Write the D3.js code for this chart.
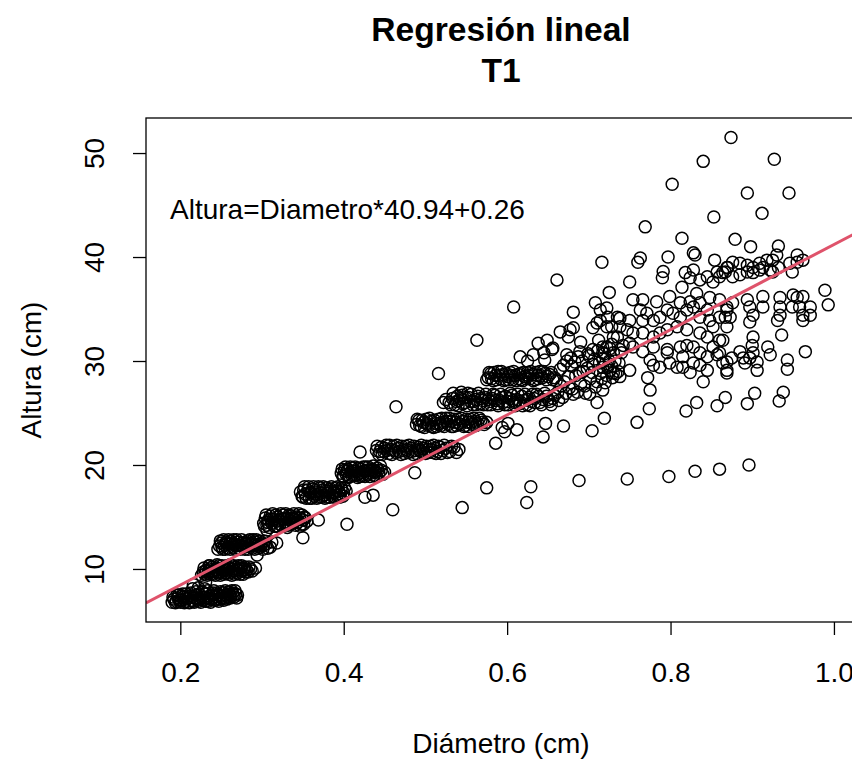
<!DOCTYPE html>
<html>
<head>
<meta charset="utf-8">
<script src="https://cdn.jsdelivr.net/npm/d3@7"></script>
<style>
body{margin:0;background:#fff;}
text{font-family:"Liberation Sans", Arial, sans-serif;fill:#000;}
</style>
</head>
<body>
<div id="grafico"></div>
<script>
// pares [diametro (cm), altura (cm)], agrupados por zona
var franja1 = [[0.190,6.8],[0.192,7.1],[0.195,6.9],[0.197,7.2],[0.200,6.8],[0.201,7.0],[0.204,7.3],[0.206,6.9],[0.208,7.1],[0.210,6.8],[0.212,7.4],[0.214,7.0],[0.216,6.9],[0.218,7.2],[0.220,7.5],[0.222,6.9],[0.224,7.1],[0.226,7.3],[0.228,7.0],[0.230,7.6],[0.232,7.2],[0.234,6.9],[0.236,7.4],[0.238,7.1],[0.240,7.7],[0.242,7.0],[0.244,7.3],[0.246,7.5],[0.248,7.1],[0.250,7.4],[0.252,7.7],[0.254,7.2],[0.256,7.5],[0.258,7.3],[0.260,7.6],[0.262,7.4],[0.264,7.7],[0.266,7.3],[0.268,7.6],[0.270,7.5],[0.215,8.1],[0.222,8.2],[0.230,8.1],[0.216,8.5],[0.231,8.75],[0.203,7.6],[0.198,7.5],
  [0.191,7.3],[0.194,6.75],[0.196,7.5],[0.199,7.0],[0.202,7.4],[0.205,6.75],[0.207,7.6],[0.209,7.2],[0.211,6.75],[0.213,7.7],[0.215,7.3],[0.217,6.8],[0.219,7.8],[0.221,7.1],[0.223,7.6],[0.225,6.8],[0.227,7.8],[0.229,7.3],[0.231,6.9],[0.233,7.9],[0.235,7.1],[0.237,6.8],[0.239,7.5],[0.241,7.9],[0.243,7.0],[0.245,7.7],[0.247,6.9],[0.249,7.8],[0.251,7.2],[0.253,7.0],[0.255,7.9],[0.257,7.1],[0.259,7.8],[0.261,7.2],[0.263,7.9],[0.265,7.5],[0.267,7.9],[0.269,7.2]];
var franja2 = [[0.228,9.7],[0.230,9.5],[0.232,9.9],[0.234,9.6],[0.236,10.0],[0.238,9.7],[0.240,9.5],[0.242,9.9],[0.244,10.1],[0.246,9.7],[0.248,9.6],[0.250,10.0],[0.252,9.8],[0.254,10.2],[0.256,9.6],[0.258,9.9],[0.260,10.1],[0.262,9.7],[0.264,10.0],[0.266,9.8],[0.268,10.2],[0.270,9.6],[0.272,9.9],[0.274,10.1],[0.276,9.8],[0.278,10.0],[0.280,9.7],[0.283,9.7],[0.286,10.0],[0.292,10.1],[0.236,10.3],[0.245,10.4],[0.226,9.4],
  [0.229,10.1],[0.231,9.8],[0.233,9.4],[0.235,10.3],[0.237,9.5],[0.239,10.2],[0.241,9.8],[0.243,9.4],[0.245,9.9],[0.247,10.3],[0.249,9.4],[0.251,10.3],[0.253,9.5],[0.255,9.9],[0.257,10.3],[0.259,9.5],[0.261,10.4],[0.263,9.4],[0.265,10.3],[0.267,9.5],[0.269,9.9],[0.271,10.3],[0.273,9.5],[0.275,10.3],[0.277,9.5],[0.279,10.2],[0.281,9.9],[0.284,10.2],[0.288,9.8]];
var franja3 = [[0.248,12.2],[0.250,12.5],[0.252,11.9],[0.254,12.3],[0.256,12.6],[0.258,12.0],[0.260,12.4],[0.262,12.7],[0.264,12.1],[0.266,12.4],[0.268,12.2],[0.270,12.6],[0.272,12.0],[0.274,12.3],[0.276,12.5],[0.278,12.1],[0.280,12.4],[0.282,12.7],[0.284,12.2],[0.286,12.5],[0.288,12.0],[0.290,12.3],[0.292,12.6],[0.294,12.2],[0.296,12.4],[0.298,12.1],[0.300,12.5],[0.302,12.3],[0.305,12.4],[0.310,12.1],[0.318,12.5],[0.294,11.35],[0.306,13.75],[0.246,11.9],
  [0.249,12.7],[0.251,12.1],[0.253,12.8],[0.255,11.9],[0.257,12.4],[0.259,12.8],[0.261,11.9],[0.263,12.5],[0.265,12.8],[0.267,11.9],[0.269,12.8],[0.271,12.3],[0.273,11.9],[0.275,12.8],[0.277,12.2],[0.279,11.9],[0.281,12.5],[0.283,11.9],[0.285,12.8],[0.287,12.4],[0.289,12.8],[0.291,11.9],[0.293,12.8],[0.295,12.0],[0.297,12.7],[0.299,12.3],[0.301,11.9],[0.303,12.7],[0.307,12.0],[0.312,12.6]];
var franja4 = [[0.302,14.4],[0.304,14.9],[0.306,14.2],[0.308,14.7],[0.310,15.1],[0.312,14.4],[0.314,14.8],[0.316,14.1],[0.318,14.6],[0.320,15.0],[0.322,14.3],[0.324,14.8],[0.326,15.2],[0.328,14.5],[0.330,14.9],[0.332,14.2],[0.334,14.7],[0.336,15.1],[0.338,14.4],[0.340,14.8],[0.342,15.0],[0.344,14.5],[0.346,14.9],[0.348,14.3],[0.350,14.7],[0.352,15.0],[0.355,14.6],
  [0.303,14.1],[0.305,15.2],[0.307,14.5],[0.309,14.0],[0.311,14.8],[0.313,15.3],[0.315,14.1],[0.317,15.2],[0.319,14.1],[0.321,14.7],[0.323,15.3],[0.325,14.1],[0.327,14.8],[0.329,15.3],[0.331,14.0],[0.333,15.2],[0.335,14.3],[0.337,14.9],[0.339,15.3],[0.341,14.2],[0.343,14.7],[0.345,15.3],[0.347,14.1],[0.349,15.2],[0.351,14.3],[0.353,14.9]];
var franja5 = [[0.347,17.4],[0.350,16.9],[0.353,17.2],[0.356,17.6],[0.358,16.8],[0.360,17.3],[0.362,17.7],[0.364,17.0],[0.366,17.4],[0.369,17.9],[0.370,16.9],[0.372,17.3],[0.374,17.6],[0.376,17.1],[0.378,17.5],[0.380,16.9],[0.382,17.3],[0.384,17.7],[0.386,17.0],[0.388,17.4],[0.390,17.8],[0.392,17.1],[0.394,17.5],[0.396,17.2],[0.398,17.6],[0.400,17.3],[0.403,17.5],[0.352,17.9],
  [0.349,17.0],[0.351,17.6],[0.354,16.8],[0.357,17.9],[0.359,17.4],[0.361,16.8],[0.363,17.9],[0.365,17.2],[0.367,16.8],[0.371,17.8],[0.373,16.9],[0.375,17.9],[0.377,16.8],[0.379,17.8],[0.381,17.5],[0.383,16.9],[0.385,17.9],[0.387,17.3],[0.389,16.9],[0.391,17.5],[0.393,17.9],[0.395,16.9],[0.397,17.8],[0.399,17.0],[0.401,17.8]];
var franja6 = [[0.397,19.2],[0.399,18.9],[0.401,19.5],[0.403,19.1],[0.405,19.6],[0.407,18.9],[0.409,19.3],[0.411,19.7],[0.413,19.0],[0.415,19.4],[0.417,18.8],[0.419,19.2],[0.421,19.6],[0.423,19.0],[0.425,19.4],[0.427,19.8],[0.429,19.1],[0.431,19.5],[0.433,19.2],[0.435,19.6],[0.437,19.0],[0.439,19.4],[0.441,19.7],[0.443,19.2],[0.446,19.5],[0.450,19.3],
  [0.398,19.6],[0.400,18.9],[0.402,19.8],[0.404,19.4],[0.406,18.8],[0.408,19.8],[0.410,19.0],[0.412,19.4],[0.414,19.8],[0.416,19.0],[0.418,19.7],[0.420,18.9],[0.422,19.3],[0.424,19.8],[0.426,18.9],[0.428,19.5],[0.430,19.8],[0.432,18.9],[0.434,19.4],[0.436,19.9],[0.438,19.3],[0.440,18.9],[0.442,19.5],[0.445,19.9],[0.448,19.1]];
var franja7 = [[0.420,21.25],[0.440,21.4],[0.443,21.0],[0.446,21.7],[0.449,21.3],[0.452,21.9],[0.455,21.1],[0.458,21.5],[0.461,21.8],[0.464,21.2],[0.467,21.6],[0.470,21.0],[0.473,21.4],[0.476,21.8],[0.479,21.2],[0.482,21.6],[0.485,21.0],[0.488,21.4],[0.491,21.7],[0.494,21.3],[0.497,21.6],[0.500,21.1],[0.503,21.5],[0.506,21.8],[0.509,21.2],[0.512,21.6],[0.515,21.3],[0.518,21.7],[0.521,21.4],[0.525,21.6],[0.530,21.3],[0.535,21.7],[0.541,21.5],
  [0.441,21.8],[0.444,21.3],[0.447,21.0],[0.450,21.6],[0.453,21.4],[0.456,21.9],[0.459,21.0],[0.462,21.4],[0.465,21.9],[0.468,21.3],[0.471,21.8],[0.474,21.1],[0.477,21.5],[0.480,21.9],[0.483,21.3],[0.486,21.8],[0.489,21.1],[0.492,21.5],[0.495,21.9],[0.498,21.2],[0.501,21.8],[0.504,21.2],[0.507,21.5],[0.510,21.9],[0.513,21.1],[0.516,21.8],[0.519,21.1],[0.523,21.9],[0.527,21.2],[0.532,21.8],[0.538,21.2]];
var franja8 = [[0.489,23.9],[0.492,24.3],[0.495,23.7],[0.498,24.1],[0.501,24.4],[0.504,23.8],[0.507,24.2],[0.510,23.6],[0.513,24.0],[0.516,24.4],[0.519,23.8],[0.522,24.1],[0.525,24.5],[0.528,23.9],[0.531,24.2],[0.534,23.7],[0.537,24.1],[0.540,24.4],[0.543,23.9],[0.546,24.2],[0.549,23.8],[0.552,24.1],[0.555,24.4],[0.558,23.9],[0.561,24.2],[0.564,24.0],[0.568,24.3],[0.572,23.9],[0.575,24.1],
  [0.490,24.4],[0.493,23.8],[0.496,24.3],[0.499,23.6],[0.502,24.0],[0.505,24.5],[0.508,23.7],[0.511,24.3],[0.514,23.7],[0.517,24.0],[0.520,24.5],[0.523,23.7],[0.526,24.2],[0.529,24.5],[0.532,23.7],[0.535,24.4],[0.538,23.8],[0.541,24.0],[0.544,24.5],[0.547,23.7],[0.550,24.4],[0.553,23.7],[0.556,24.1],[0.559,24.5],[0.562,23.8],[0.566,24.5],[0.570,24.1]];
var franja9 = [[0.522,26.0],[0.529,26.0],[0.533,26.4],[0.536,25.8],[0.539,26.6],[0.541,26.2],[0.544,27.0],[0.546,25.9],[0.549,26.5],[0.552,26.9],[0.555,26.1],[0.558,25.8],[0.561,26.3],[0.564,26.6],[0.567,25.9],[0.570,26.2],[0.573,26.5],[0.576,25.8],[0.579,26.1],[0.582,26.4],[0.585,26.7],[0.588,25.9],[0.591,26.2],[0.594,26.5],[0.597,25.8],[0.600,26.1],[0.603,26.4],[0.606,26.7],[0.609,26.0],[0.612,26.3],[0.615,25.9],[0.618,26.6],[0.621,26.2],[0.624,25.8],[0.627,26.5],[0.630,26.1],[0.633,26.4],[0.636,26.8],[0.640,26.0],[0.644,26.3],[0.648,26.6],[0.652,26.1],[0.656,26.4],
  [0.525,26.3],[0.531,25.8],[0.534,26.9],[0.538,26.1],[0.540,25.7],[0.543,26.4],[0.545,26.7],[0.548,26.0],[0.551,25.7],[0.553,26.5],[0.556,26.8],[0.559,26.1],[0.562,25.8],[0.565,26.9],[0.568,26.4],[0.571,25.8],[0.574,26.8],[0.577,26.3],[0.580,25.8],[0.583,26.8],[0.586,26.2],[0.589,25.7],[0.592,26.8],[0.595,26.0],[0.598,26.6],[0.601,25.8],[0.604,26.9],[0.607,26.2],[0.610,25.7],[0.613,26.8],[0.616,26.1],[0.619,25.7],[0.622,26.8],[0.625,26.3],[0.628,25.7],[0.631,26.8],[0.634,26.0],[0.638,26.6],[0.642,25.8],[0.646,26.9],[0.650,26.3],[0.654,25.8],[0.658,26.7]];
var franja10 = [[0.575,28.2],[0.577,28.4],[0.580,28.8],[0.583,28.1],[0.586,28.6],[0.589,29.0],[0.592,28.3],[0.595,28.7],[0.598,28.2],[0.601,28.5],[0.604,28.9],[0.607,28.2],[0.610,28.6],[0.613,28.3],[0.616,28.8],[0.619,28.1],[0.622,28.5],[0.625,28.9],[0.628,28.3],[0.631,28.7],[0.634,28.2],[0.637,28.6],[0.640,29.0],[0.643,28.4],[0.646,28.8],[0.650,28.5],[0.654,28.9],[0.658,28.4],
  [0.578,28.9],[0.581,28.3],[0.584,28.9],[0.587,28.2],[0.590,28.6],[0.593,29.0],[0.596,28.1],[0.599,28.8],[0.602,28.2],[0.605,28.6],[0.608,29.0],[0.611,28.1],[0.614,28.7],[0.617,28.2],[0.620,28.9],[0.623,28.3],[0.626,28.6],[0.629,29.0],[0.632,28.1],[0.635,28.9],[0.638,28.3],[0.641,28.6],[0.644,29.0],[0.648,28.2],[0.652,28.7],[0.656,28.2]];
var nubeCentral = [[0.662,27.0],[0.665,29.2],[0.668,26.5],[0.670,28.0],[0.673,30.0],[0.676,27.4],[0.679,29.5],[0.681,26.8],[0.684,28.6],[0.687,30.4],[0.690,27.8],[0.693,29.0],[0.696,26.9],[0.699,30.7],[0.702,28.3],[0.705,29.7],[0.708,27.5],[0.711,31.0],[0.714,28.8],[0.717,30.2],[0.720,27.9],[0.723,29.4],[0.726,31.2],[0.729,28.4],[0.732,30.0],[0.736,29.0],[0.740,30.8],[0.726,29.1],[0.738,28.5],[0.750,29.1],[0.730,28.85],[0.717,29.4],[0.775,30.1],[0.779,29.6],[0.799,29.8],[0.787,29.4],[0.808,29.4],[0.845,30.4],[0.857,30.6],[0.864,29.8],[0.869,29.1],[0.828,29.8],[0.824,28.9],[0.815,29.4],[0.836,29.6],[0.845,29.1],[0.796,30.8],[0.766,30.9],[0.742,31.5],[0.750,31.7],[0.820,31.5],
  [0.660,28.1],[0.663,26.2],[0.666,27.6],[0.669,29.6],[0.672,26.9],[0.675,28.5],[0.678,30.3],[0.680,27.3],[0.683,29.9],[0.686,27.0],[0.689,28.9],[0.692,30.0],[0.695,27.6],[0.698,29.3],[0.701,26.8],[0.704,28.9],[0.707,30.2],[0.710,28.0],[0.713,29.8],[0.716,28.3],[0.719,30.7],[0.722,28.6],[0.725,30.0],[0.728,29.5],[0.733,28.8],[0.737,29.8]];
var nubeSuperior = [[0.616,30.4],[0.632,30.6],[0.638,31.7],[0.655,31.1],[0.673,30.6],[0.689,30.9],[0.705,31.1],[0.717,31.35],[0.625,30.0],[0.645,30.8],[0.649,32.0],[0.656,31.25],[0.646,30.1],[0.690,31.8],[0.700,30.5],[0.712,32.0],[0.728,31.6],[0.735,32.3],[0.681,34.7],[0.665,32.8],[0.677,33.0],[0.675,32.3],[0.681,33.2],[0.708,35.6],[0.714,34.9],[0.710,33.65],[0.705,33.2],[0.722,35.1],[0.723,34.2],[0.725,36.6],[0.716,39.5],[0.760,39.5],[0.750,37.6],[0.791,38.6],[0.738,34.1],[0.728,33.3],[0.754,35.9],[0.766,35.9],[0.763,34.9],[0.750,33.9],[0.766,33.9],[0.763,39.9],[0.797,40.0],[0.830,40.2],[0.854,39.7],[0.790,38.0],[0.818,38.5],[0.824,38.0],[0.828,38.75],[0.836,37.8],[0.845,38.1],[0.852,37.6],[0.857,38.55],[0.864,38.5],[0.870,39.0],[0.814,37.1],[0.783,35.7],[0.799,36.2],[0.812,35.6],[0.824,35.7],[0.832,36.5],[0.836,35.6],[0.848,36.1],[0.860,35.9],[0.869,35.2],[0.867,34.2],[0.714,33.9],[0.722,33.3],[0.735,34.2],[0.738,33.3],[0.771,34.6],[0.779,33.9],[0.787,34.2],[0.796,34.9],[0.803,34.6],[0.812,34.2],[0.820,34.9],[0.828,35.2],[0.836,34.2],[0.845,34.9],[0.848,33.9],[0.852,33.3],[0.860,34.2],[0.869,33.3],[0.796,33.0],[0.808,33.3],[0.820,33.0],[0.836,32.7],[0.845,32.3],[0.787,32.7],[0.779,32.3],[0.766,32.7],[0.754,32.7],[0.747,33.0],[0.730,32.3],[0.722,31.35],[0.738,31.1],[0.754,31.35],[0.779,31.35],[0.796,31.1],[0.812,31.35],[0.828,31.35],[0.836,30.8],[0.815,30.4],[0.852,31.35],[0.860,32.0],[0.717,30.8],[0.730,30.8]];
var nubeDerecha = [[0.912,44.2],[0.879,41.7],[0.898,41.0],[0.932,41.05],[0.930,40.2],[0.925,39.7],[0.918,39.7],[0.909,39.4],[0.901,39.0],[0.894,39.2],[0.885,39.4],[0.876,39.5],[0.869,39.0],[0.867,38.55],[0.860,38.1],[0.876,38.1],[0.885,38.3],[0.894,38.55],[0.901,38.5],[0.909,38.75],[0.913,39.0],[0.922,38.75],[0.925,38.55],[0.932,39.0],[0.946,39.4],[0.955,40.2],[0.955,39.5],[0.949,38.55],[0.962,39.7],[0.989,36.8],[0.993,35.4],[0.962,36.2],[0.950,36.35],[0.934,36.1],[0.913,36.2],[0.913,35.2],[0.897,35.2],[0.894,35.9],[0.876,35.6],[0.869,34.9],[0.873,34.2],[0.901,34.4],[0.934,35.2],[0.934,34.4],[0.949,35.2],[0.958,35.2],[0.971,35.2],[0.971,34.4],[0.962,34.4],[0.955,36.1],[0.901,32.3],[0.936,32.5],[0.965,30.9],[0.919,31.35],[0.922,30.6],[0.943,30.1],[0.943,29.2],[0.900,31.5],[0.901,30.8],[0.906,29.9],[0.906,29.1],[0.897,30.3],[0.885,30.9],[0.875,30.3],[0.869,29.9],[0.869,28.85],[0.860,30.8],[0.864,32.0],[0.889,30.3],[0.891,29.8],[0.897,33.75],[0.931,33.9],[0.962,33.9]];
var atipicos = [[0.350,13.0],[0.369,14.7],[0.404,14.3],[0.460,15.7],[0.426,16.9],[0.436,17.1],[0.487,19.25],[0.464,25.6],[0.545,15.9],[0.624,16.4],[0.575,17.8],[0.629,17.9],[0.688,18.5],[0.747,18.65],[0.798,18.9],[0.830,19.4],[0.860,19.6],[0.896,20.0],[0.586,22.1],[0.612,23.4],[0.647,24.0],[0.644,22.7],[0.669,23.75],[0.704,23.3],[0.719,24.5],[0.759,24.1],[0.774,25.4],[0.819,25.2],[0.832,26.0],[0.857,25.7],[0.894,25.9],[0.933,26.15],[0.594,23.6],[0.601,24.0],[0.597,23.2],[0.710,26.0],[0.772,28.4],[0.775,27.2],[0.717,27.2],[0.840,28.0],[0.867,26.5],[0.903,26.9],[0.938,27.0],[0.516,28.8],[0.563,32.0],[0.608,35.2],[0.661,37.8],[0.874,51.5],[0.840,49.2],[0.927,49.4],[0.802,47.0],[0.894,46.15],[0.945,46.15],[0.853,43.85],[0.769,42.9],[0.814,41.8],[0.828,40.4]];

var dominioX = [0.158, 1.027];
var dominioY = [4.9, 53.37];
var ticksX = [0.2, 0.4, 0.6, 0.8, 1.0];
var ticksY = [10, 20, 30, 40, 50];
var pendiente = 40.94;
var intercepto = 0.26;

var ancho = 852, alto = 761;
var caja = {left: 146, right: 856, top: 118, bottom: 622};

var datos = [].concat(franja1, franja2, franja3, franja4, franja5, franja6, franja7,
                      franja8, franja9, franja10, nubeCentral, nubeSuperior, nubeDerecha, atipicos);

var svg = d3.select("#grafico").append("svg")
            .attr("width", ancho)
            .attr("height", alto);

var x = d3.scaleLinear().domain(dominioX).range([caja.left, caja.right]);
var y = d3.scaleLinear().domain(dominioY).range([caja.bottom, caja.top]);

svg.append("defs").append("clipPath").attr("id", "recorte")
   .append("rect")
   .attr("x", caja.left).attr("y", caja.top)
   .attr("width", caja.right - caja.left).attr("height", caja.bottom - caja.top);

// puntos
svg.append("g")
   .selectAll("circle")
   .data(datos)
   .enter().append("circle")
   .attr("cx", function(d){ return x(d[0]); })
   .attr("cy", function(d){ return y(d[1]); })
   .attr("r", 6)
   .attr("fill", "none")
   .attr("stroke", "#000")
   .attr("stroke-width", 1.5);

// recta de regresion
var linea = d3.line()
              .x(function(d){ return x(d); })
              .y(function(d){ return y(pendiente * d + intercepto); });
svg.append("path")
   .datum(dominioX)
   .attr("d", linea)
   .attr("clip-path", "url(#recorte)")
   .attr("fill", "none")
   .attr("stroke", "#DF536B")
   .attr("stroke-width", 3);

// caja
svg.append("rect")
   .attr("x", caja.left).attr("y", caja.top)
   .attr("width", caja.right - caja.left).attr("height", caja.bottom - caja.top)
   .attr("fill", "none").attr("stroke", "#000").attr("stroke-width", 1.3);

// ejes
var ejeX = svg.append("g")
   .attr("transform", "translate(0," + caja.bottom + ")")
   .call(d3.axisBottom(x).tickValues(ticksX).tickFormat(d3.format(".1f")).tickSize(13).tickSizeOuter(0));
ejeX.select(".domain").remove();
ejeX.selectAll(".tick line").attr("stroke-width", 1.3);
ejeX.selectAll(".tick text")
    .attr("y", 60).attr("dy", 0)
    .style("font-size", "28px");

var ejeY = svg.append("g")
   .attr("transform", "translate(" + caja.left + ",0)")
   .call(d3.axisLeft(y).tickValues(ticksY).tickSize(13).tickSizeOuter(0));
ejeY.select(".domain").remove();
ejeY.selectAll(".tick line").attr("stroke-width", 1.3);
ejeY.selectAll(".tick text")
    .attr("transform", "rotate(-90)")
    .attr("x", 0).attr("y", -42).attr("dy", 0)
    .attr("text-anchor", "middle")
    .style("font-size", "28px");

// textos
var centro = (caja.left + caja.right) / 2;
svg.append("text")
   .attr("x", centro).attr("y", 41)
   .attr("text-anchor", "middle")
   .style("font-size", "33.6px").style("font-weight", "bold")
   .text("Regresión lineal");
svg.append("text")
   .attr("x", centro).attr("y", 82)
   .attr("text-anchor", "middle")
   .style("font-size", "33.6px").style("font-weight", "bold")
   .text("T1");

svg.append("text")
   .attr("x", centro).attr("y", 753)
   .attr("text-anchor", "middle")
   .style("font-size", "28px")
   .text("Diámetro (cm)");

svg.append("text")
   .attr("transform", "translate(41," + ((caja.top + caja.bottom) / 2) + ") rotate(-90)")
   .attr("text-anchor", "middle")
   .style("font-size", "28px")
   .text("Altura (cm)");

svg.append("text")
   .attr("x", 170).attr("y", 219)
   .style("font-size", "28px")
   .text("Altura=Diametro*" + pendiente + "+" + intercepto);
</script>
</body>
</html>
